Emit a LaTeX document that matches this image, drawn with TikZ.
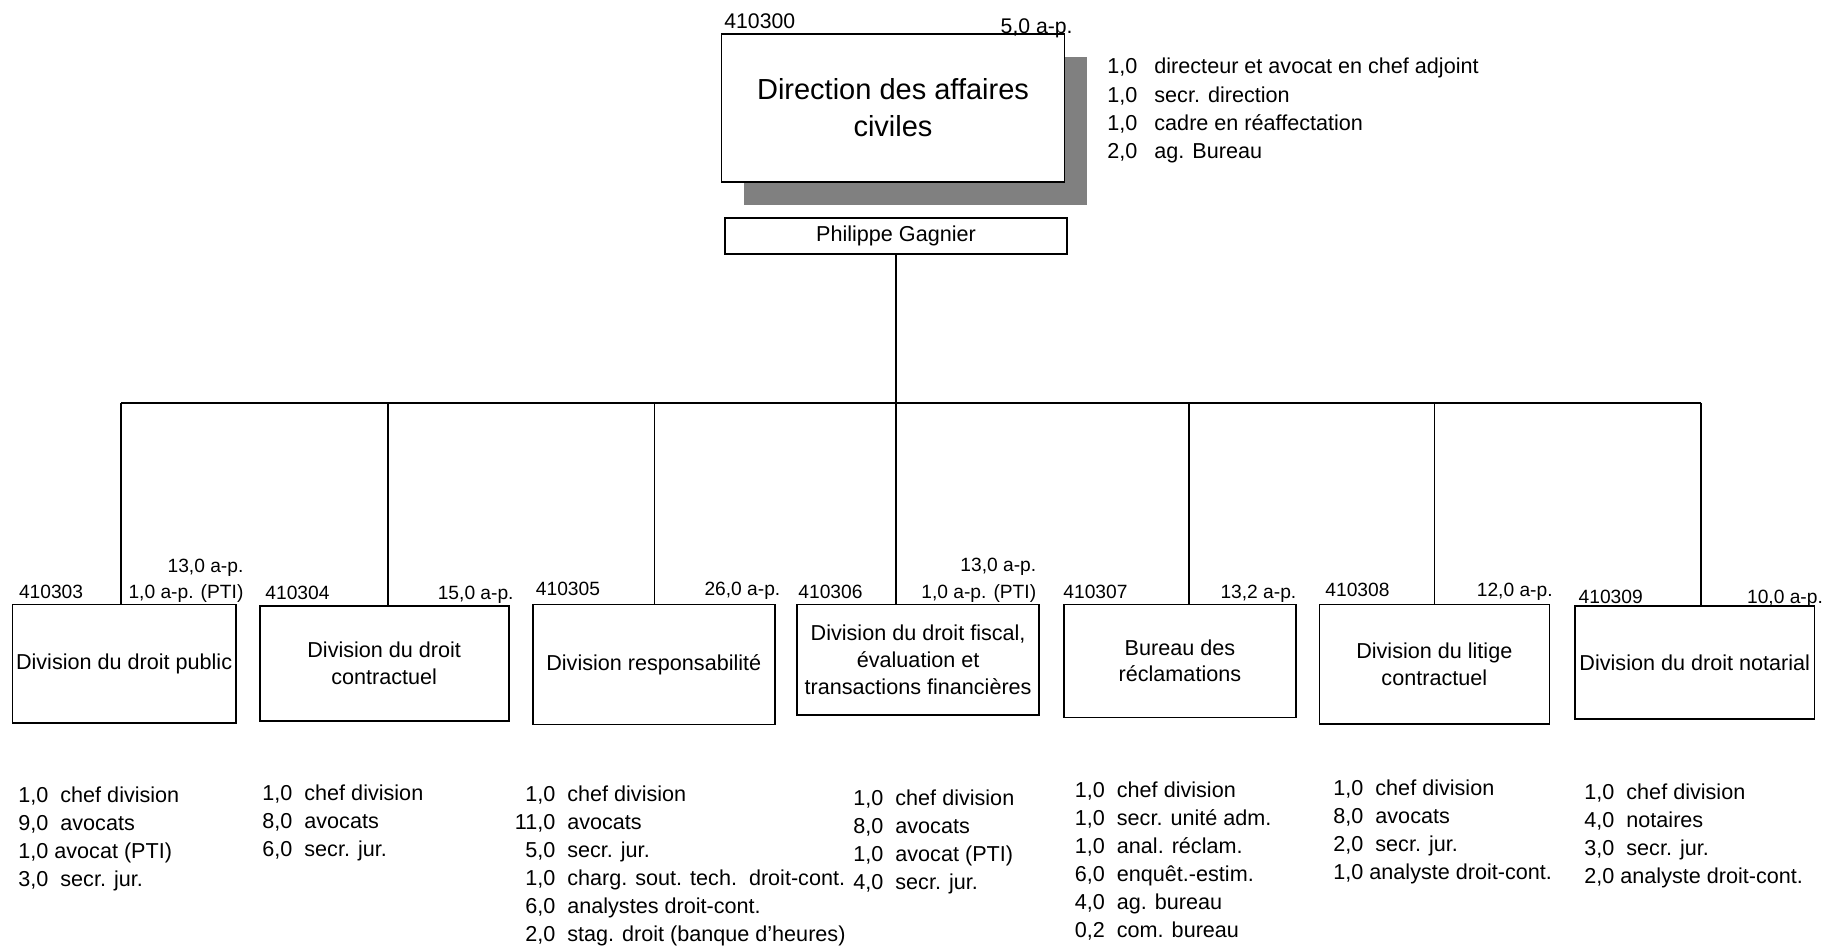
\documentclass[tikz,border=0pt]{standalone}
\usepackage{fontspec}
\setmainfont{Liberation Sans}
\usetikzlibrary{shadows}

\newcommand{\stafftab}[1]{\begin{tabular}[t]{@{}r@{\hspace{6pt}}l@{}}#1\end{tabular}}

\begin{document}
\begin{tikzpicture}[x=0.5pt,y=-0.5pt,
  unit/.style={draw,line width=0.8pt,fill=white,align=center,inner sep=0pt,font=\fontsize{10.8}{13.3}\selectfont},
  code/.style={inner sep=0pt,font=\fontsize{9.6}{11.5}\selectfont},
  staff/.style={inner sep=0pt,anchor=base west,font=\fontsize{10.8}{14}\selectfont},
  link/.style={line width=0.8pt}]
\useasboundingbox (0,0) rectangle (1825,946);

% direction
\node[unit,minimum width=171.5pt,minimum height=74pt,font=\fontsize{14.5}{18.5}\selectfont,
  drop shadow={shadow xshift=11pt,shadow yshift=-11.5pt,fill=gray,opacity=1}] (dir) at (893,108) {Direction des affaires\\civiles};
\node[code,font=\fontsize{10.6}{12}\selectfont,anchor=base west] (dir-id) at (724,29) {410300};
\node[code,font=\fontsize{10.6}{12}\selectfont,anchor=base east] (dir-ap) at (1073,33.5) {5,0 a-p.};
\node[staff,font=\fontsize{10.8}{14.1}\selectfont] (dir-staff) at (1107,74) {\begin{tabular}[t]{@{}r@{\hspace{8.5pt}}l@{}}
  1,0 & directeur et avocat en chef adjoint\\ 1,0 & secr. direction\\ 1,0 & cadre en réaffectation\\ 2,0 & ag. Bureau\end{tabular}};
\node[unit,minimum width=171pt,minimum height=18pt] (phil) at (896,236) {Philippe Gagnier};

% divisions
\node[unit,minimum width=111.6pt,minimum height=59.2pt] (b303) at (124.1,663.5) {Division du droit public};
\node[unit,minimum width=124.5pt,minimum height=57.5pt] (b304) at (384.2,663.5) {Division du droit\\contractuel};
\node[unit,minimum width=121pt,minimum height=60pt] (b305) at (653.8,664.3) {Division responsabilité};
\node[unit,minimum width=121pt,minimum height=55.35pt] (b306) at (918.1,659.7) {Division du droit fiscal,\\évaluation et\\transactions financières};
\node[unit,minimum width=115.85pt,minimum height=56.5pt] (b307) at (1179.9,660.8) {Bureau des\\réclamations};
\node[unit,minimum width=115pt,minimum height=59.85pt] (b308) at (1434.3,664.2) {Division du litige\\contractuel};
\node[unit,minimum width=119.65pt,minimum height=56.5pt] (b309) at (1694.7,662.5) {Division du droit notarial};

% codes and a-p.
\node[code,anchor=base west] (id303) at (18.6,598.3) {410303};
\node[code,anchor=base east] (ap303) at (243.8,572.7) {13,0 a-p.};
\node[code,anchor=base east] (pti303) at (243.8,598.3) {1,0 a-p. (PTI)};
\node[code,anchor=base west] (id304) at (265,599) {410304};
\node[code,anchor=base east] (ap304) at (514,599.3) {15,0 a-p.};
\node[code,anchor=base west] (id305) at (535.5,595) {410305};
\node[code,anchor=base east] (ap305) at (780.7,595) {26,0 a-p.};
\node[code,anchor=base west] (id306) at (798,598) {410306};
\node[code,anchor=base east] (ap306) at (1036.6,571.7) {13,0 a-p.};
\node[code,anchor=base east] (pti306) at (1036.6,598.3) {1,0 a-p. (PTI)};
\node[code,anchor=base west] (id307) at (1063,598) {410307};
\node[code,anchor=base east] (ap307) at (1296.7,598) {13,2 a-p.};
\node[code,anchor=base west] (id308) at (1325,596.7) {410308};
\node[code,anchor=base east] (ap308) at (1553,596.7) {12,0 a-p.};
\node[code,anchor=base west] (id309) at (1578.3,603) {410309};
\node[code,anchor=base east] (ap309) at (1823.3,603) {10,0 a-p.};

% staff
\node[staff] (s303) at (18,802) {\stafftab{1,0 & chef division\\ 9,0 & avocats\\ \multicolumn{2}{@{}l@{}}{1,0 avocat (PTI)}\\ 3,0 & secr. jur.}};
\node[staff] (s304) at (262,800) {\stafftab{1,0 & chef division\\ 8,0 & avocats\\ 6,0 & secr. jur.}};
\node[staff] (s305) at (514.5,801) {\stafftab{1,0 & chef division\\ 11,0 & avocats\\ 5,0 & secr. jur.\\ 1,0 & charg. sout. tech.\ \ droit-cont.\\ 6,0 & analystes droit-cont.\\ 2,0 & stag. droit (banque d'heures)}};
\node[staff] (s306) at (853,805) {\stafftab{1,0 & chef division\\ 8,0 & avocats\\ 1,0 & avocat (PTI)\\ 4,0 & secr. jur.}};
\node[staff] (s307) at (1074.5,797) {\stafftab{1,0 & chef division\\ 1,0 & secr. unité adm.\\ 1,0 & anal. réclam.\\ 6,0 & enquêt.-estim.\\ 4,0 & ag. bureau\\ 0,2 & com. bureau}};
\node[staff] (s308) at (1333,795) {\stafftab{1,0 & chef division\\ 8,0 & avocats\\ 2,0 & secr. jur.\\ \multicolumn{2}{@{}l@{}}{1,0 analyste droit-cont.}}};
\node[staff] (s309) at (1584,799) {\stafftab{1,0 & chef division\\ 4,0 & notaires\\ 3,0 & secr. jur.\\ \multicolumn{2}{@{}l@{}}{2,0 analyste droit-cont.}}};

% links
\coordinate (j303) at (121,403);
\coordinate (j304) at (387.7,403);
\coordinate (j305) at (654.3,403);
\coordinate (j306) at (896,403);
\coordinate (j307) at (1189,403);
\coordinate (j308) at (1434.3,403);
\coordinate (j309) at (1701,403);
\draw[link] (phil.south) -- (j306);
\draw[link] (j303) -- (j309);
\foreach \n in {303,304,305,306,307,308,309}
  \draw[link] (j\n) -- (j\n |- b\n.north);
\end{tikzpicture}
\end{document}
